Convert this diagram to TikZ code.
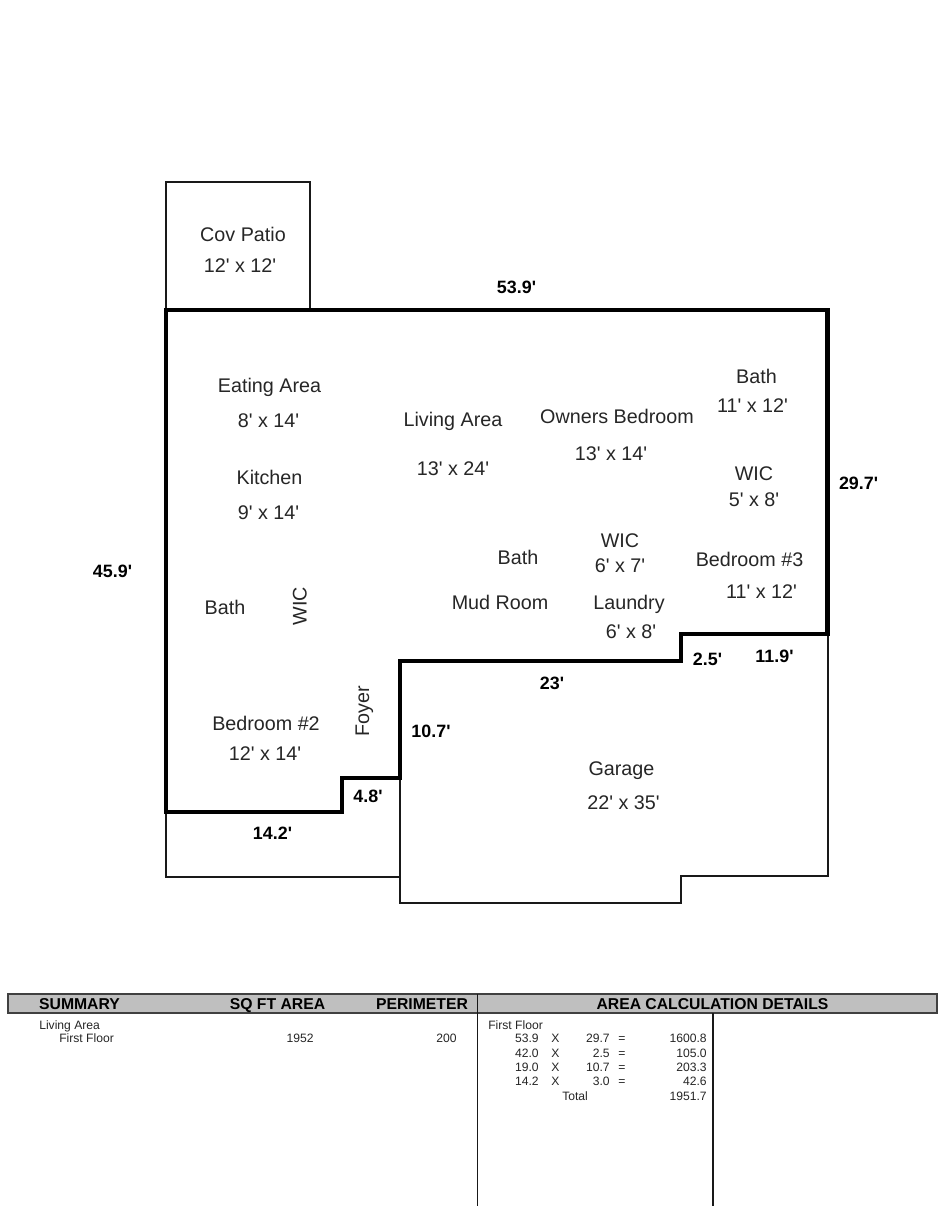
\documentclass[tikz,border=0pt]{standalone}
\usepackage{fontspec}
\setmainfont{Liberation Sans}[Ligatures=TeXOff]
\tikzset{
  x=0.75pt,y=-0.75pt,
  thinw/.style={draw=black!90,line width=1.5pt,line join=miter},
  thickw/.style={draw=black,line width=3.6pt,line join=miter},
  room/.style={font=\fontsize{14.8}{16}\selectfont,text=black!85,inner sep=0pt,text height=10.6pt,text depth=0pt},
  dim/.style={font=\fontsize{13.4}{15}\selectfont\bfseries,text=black,inner sep=0pt,text height=9.6pt,text depth=0pt},
  head/.style={font=\fontsize{11.8}{13}\selectfont\bfseries,text=black,inner sep=0pt,text height=8.5pt,text depth=0pt},
  small/.style={font=\fontsize{9.1}{10}\selectfont,text=black!85,inner sep=0pt},
  smallr/.style={small,anchor=base east},
  smalll/.style={small,anchor=base west},
}
\begin{document}
\begin{tikzpicture}
\useasboundingbox (0,0) rectangle (943,1206);
\fill[white] (0,0) rectangle (943,1206);
% outlines
\draw[thinw] (166,309) -- (166,182) -- (310,182) -- (310,309);
\draw[thinw] (827.5,634) -- (827.5,876) -- (681,876) -- (681,903) -- (400,903) -- (400,778);
\draw[thinw] (166,812) -- (166,877) -- (400,877);
\draw[thickw] (166,310) -- (827.5,310) -- (827.5,634) -- (681,634) -- (681,661) -- (400,661) -- (400,778) -- (342,778) -- (342,812) -- (166,812) -- cycle;
% rooms
\node[room] (patio) at (243,234) {Cov Patio};
\node[room] (patiod) at (240,265) {12' x 12'};
\node[room] (eat) at (269.5,385) {Eating Area};
\node[room] (eatd) at (268.5,420) {8' x 14'};
\node[room] (kit) at (269.5,477) {Kitchen};
\node[room] (kitd) at (268.5,512) {9' x 14'};
\node[room] (living) at (453,419) {Living Area};
\node[room] (livingd) at (453,468) {13' x 24'};
\node[room] (owner) at (617,416) {Owners Bedroom};
\node[room] (ownerd) at (611,453) {13' x 14'};
\node[room] (bath) at (756.5,376) {Bath};
\node[room] (bathd) at (752.5,405) {11' x 12'};
\node[room] (wica) at (754,473) {WIC};
\node[room] (wicad) at (754,499) {5' x 8'};
\node[room] (wicb) at (620,540) {WIC};
\node[room] (wicbd) at (620,565) {6' x 7'};
\node[room] (bedc) at (749.5,559) {Bedroom \#3};
\node[room] (bedcd) at (761.5,591) {11' x 12'};
\node[room] (bathb) at (518,557) {Bath};
\node[room] (mud) at (500,602) {Mud Room};
\node[room] (laundry) at (629,602) {Laundry};
\node[room] (laundryd) at (631,631) {6' x 8'};
\node[room] (bathc) at (225,607) {Bath};
\node[room,rotate=90] (wicc) at (299.5,606) {WIC};
\node[room,rotate=90] (foyer) at (362,711) {Foyer};
\node[room] (bedb) at (266,723) {Bedroom \#2};
\node[room] (bedbd) at (265,753) {12' x 14'};
\node[room] (garage) at (621.5,768) {Garage};
\node[room] (garaged) at (623.5,802) {22' x 35'};
% dimensions
\node[dim] (d1) at (516.5,287) {53.9'};
\node[dim] (d2) at (858.5,483) {29.7'};
\node[dim] (d3) at (112.5,571) {45.9'};
\node[dim] (d4) at (707.5,659) {2.5'};
\node[dim] (d5) at (774.5,656) {11.9'};
\node[dim] (d6) at (552,683) {23'};
\node[dim] (d7) at (431,731) {10.7'};
\node[dim] (d8) at (368,796) {4.8'};
\node[dim] (d9) at (272.5,833) {14.2'};
% table
\draw[fill=black!25,draw=black!75,line width=1pt] (8,994) rectangle (937,1013);
\draw[draw=black!90,line width=0.9pt] (477.5,994) -- (477.5,1206);
\draw[draw=black!90,line width=0.9pt] (713,1013) -- (713,1206);
\node[head] (h1) at (79.5,1004) {SUMMARY};
\node[head] (h2) at (277.5,1004) {SQ FT AREA};
\node[head] (h3) at (422,1004) {PERIMETER};
\node[head] (h4) at (712.5,1004) {AREA CALCULATION DETAILS};
\node[smalll] (s1) at (39,1029) {Living Area};
\node[smalll] (s2) at (59,1042) {First Floor};
\node[smallr] (s3) at (314,1042) {1952};
\node[smallr] (s4) at (457,1042) {200};
\node[smalll] (s5) at (488,1029) {First Floor};
\foreach \y/\a/\b/\c [count=\i] in {1042/53.9/29.7/1600.8,1057/42.0/2.5/105.0,1071/19.0/10.7/203.3,1085/14.2/3.0/42.6}{
  \node[smallr] (ra\i) at (539,\y) {\a};
  \node[smalll] (rx\i) at (551,\y) {X};
  \node[smallr] (rb\i) at (610,\y) {\b};
  \node[smalll] (re\i) at (618,\y) {=};
  \node[smallr] (rc\i) at (707,\y) {\c};
}
\node[smalll] (t1) at (562,1100) {Total};
\node[smallr] (t2) at (707,1100) {1951.7};
\end{tikzpicture}
\end{document}
